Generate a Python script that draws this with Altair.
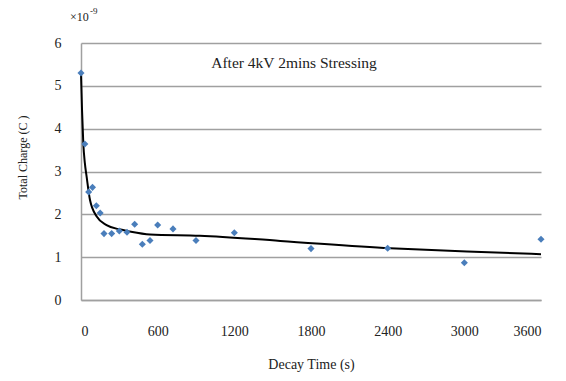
import altair as alt
import pandas as pd

# measured points
times = [0, 30, 60, 90, 120, 150, 180, 240, 300, 360, 420, 480, 540, 600, 720, 900, 1200, 1800, 2400, 3000, 3600]
charge = [5.30, 3.64, 2.52, 2.63, 2.20, 2.03, 1.55, 1.55, 1.61, 1.58, 1.77, 1.30, 1.39, 1.75, 1.66, 1.39, 1.57, 1.20, 1.21, 0.87, 1.42]

# trend line
trend_t = [0, 8, 18, 30, 44, 70, 123, 200, 300, 380, 540, 930, 1560, 2420, 3020, 3600]
trend_y = [5.30, 4.44, 3.66, 3.20, 2.88, 2.34, 1.95, 1.75, 1.65, 1.60, 1.53, 1.50, 1.38, 1.21, 1.13, 1.07]

x_ticks = [0, 600, 1200, 1800, 2400, 3000, 3600]
y_ticks = [0, 1, 2, 3, 4, 5, 6]

FONT = "Liberation Serif"

pts = pd.DataFrame({"t": times, "q": charge})
tr = pd.DataFrame({"t": trend_t, "q": trend_y})

xs = alt.Scale(domain=[0, 3600], nice=False, zero=False)
ys = alt.Scale(domain=[0, 6], nice=False)

x_axis = alt.Axis(values=x_ticks, format="d", title="Decay Time (s)", grid=False, ticks=False,
                  labelPadding=24, titlePadding=19, domainColor="#a0a0a0", domainWidth=1.5,
                  labelFontSize=14, titleFontSize=14)
y_axis = alt.Axis(values=y_ticks, format="d", title="Total Charge (C )", grid=True, ticks=False,
                  labelPadding=20, domainColor="#a0a0a0", domainWidth=1.5,
                  gridColor="#a0a0a0", gridWidth=1.5, labelFontSize=14, titleFontSize=12,
                  titleX=-59, titleY=114, titleBaseline="middle", titleAngle=270)

points = alt.Chart(pts).mark_point(shape="diamond", filled=True, size=50, color="#4a7ebb", opacity=1).encode(
    x=alt.X("t:Q", scale=xs, axis=x_axis),
    y=alt.Y("q:Q", scale=ys, axis=y_axis),
)

line = alt.Chart(tr).mark_line(color="black", strokeWidth=2, interpolate="monotone").encode(
    x=alt.X("t:Q", scale=xs),
    y=alt.Y("q:Q", scale=ys),
)

label = alt.Chart(pd.DataFrame({"s": ["After 4kV 2mins Stressing"]})).mark_text(
    font=FONT, fontSize=15.5, color="#222", align="center", baseline="middle"
).encode(x=alt.value(213), y=alt.value(20), text="s:N")

exp_base = alt.Chart(pd.DataFrame({"s": ["×10"]})).mark_text(
    font=FONT, fontSize=12, color="#222", align="left", baseline="alphabetic"
).encode(x=alt.value(-11), y=alt.value(-22), text="s:N")

exp_sup = alt.Chart(pd.DataFrame({"s": ["-9"]})).mark_text(
    font=FONT, fontSize=9, color="#222", align="left", baseline="alphabetic"
).encode(x=alt.value(9), y=alt.value(-29), text="s:N")

chart = alt.layer(line, points, label, exp_base, exp_sup).properties(
    width=460, height=257,
    autosize=alt.AutoSizeParams(type="none"),
    padding={"left": 81, "top": 43, "right": 25, "bottom": 81},
).configure_view(stroke=None).configure_axis(
    labelFont=FONT, titleFont=FONT,
    labelColor="#222", titleColor="#222", titleFontWeight="normal",
)

chart.save("out.html", embed_options={"renderer": "svg", "actions": False})
